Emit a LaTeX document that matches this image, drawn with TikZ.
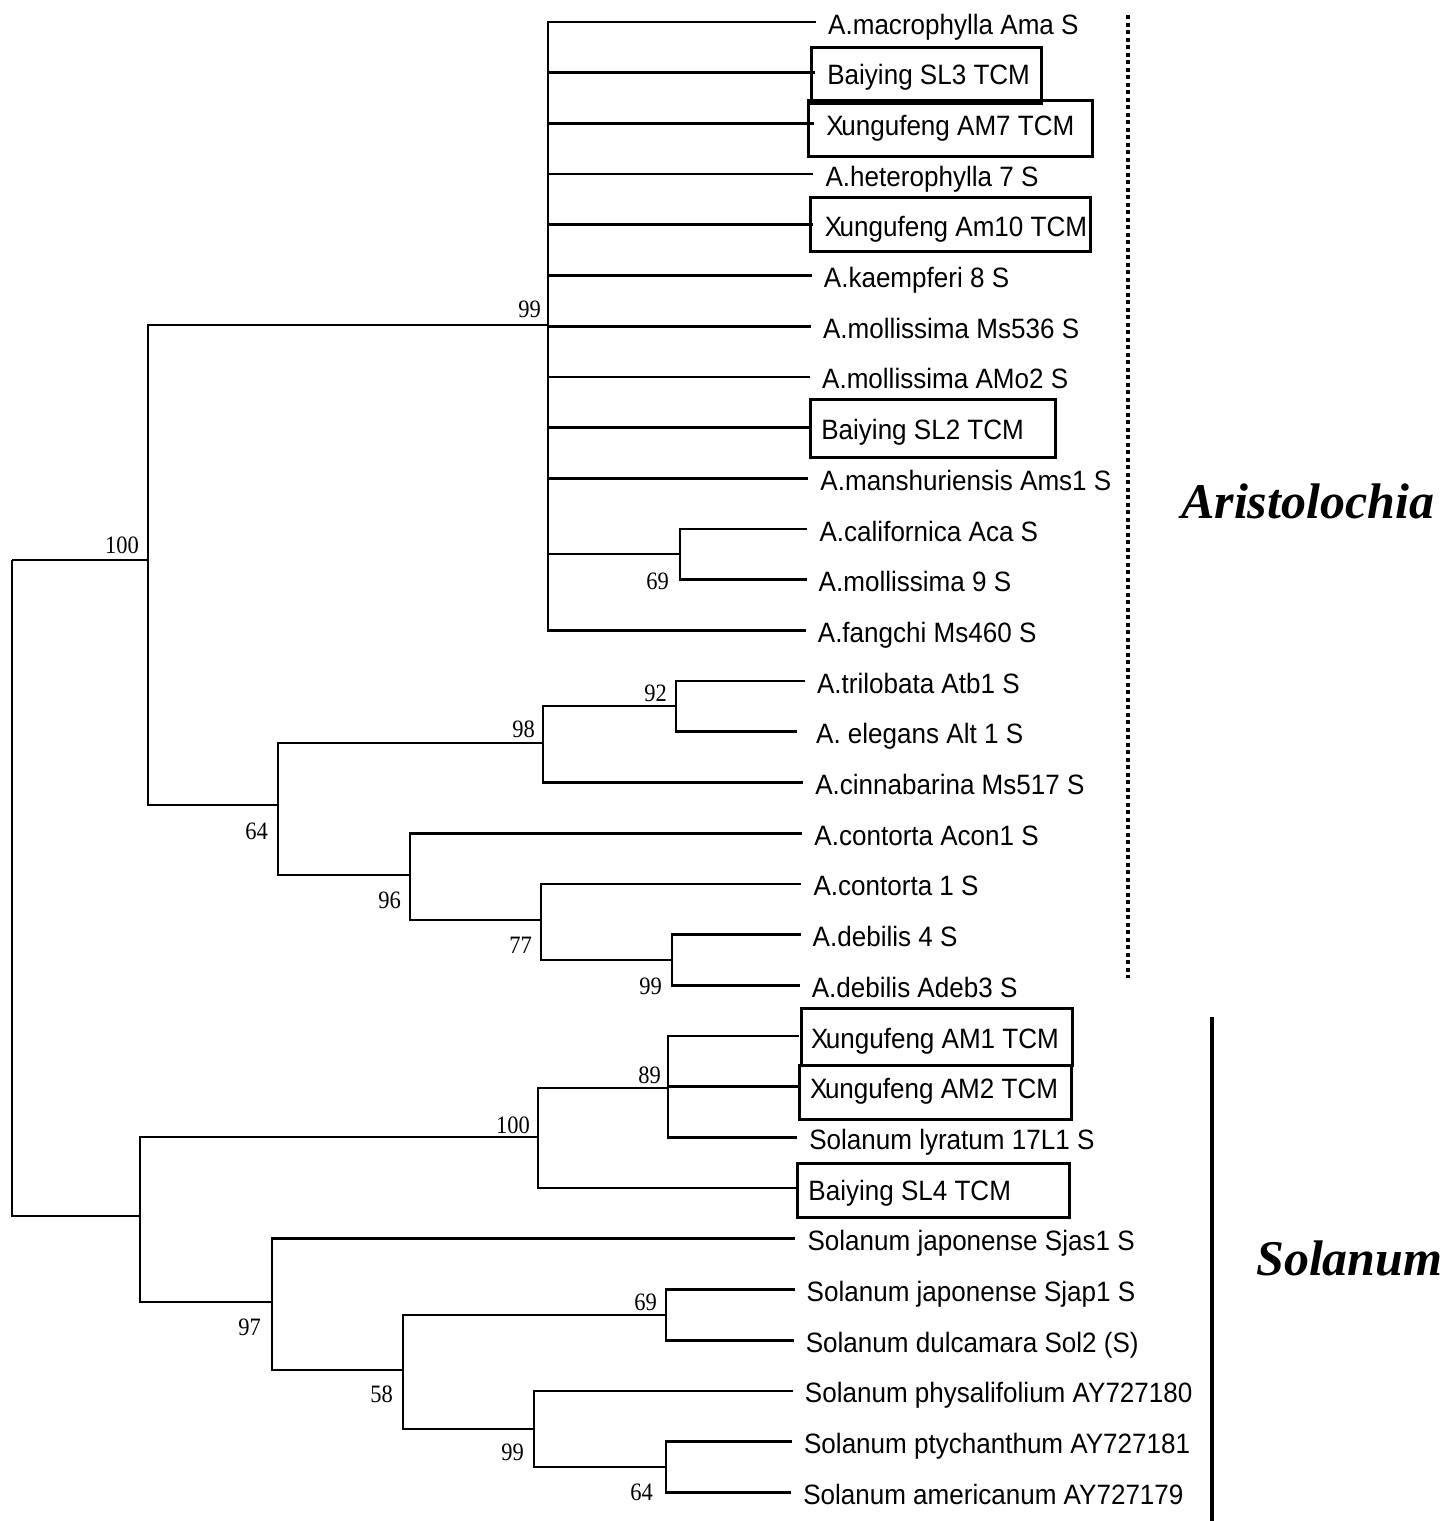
\documentclass[tikz,border=0pt]{standalone}
\usepackage{fontspec}
\newfontfamily\leaffont[FakeStretch=0.93]{Liberation Sans}
\newfontfamily\bsfont{Liberation Serif}
\newfontfamily\bootfont[FakeStretch=0.9]{Liberation Serif}
% tight X-u pair in the sample names
\newcommand\Xung{X\kern-2.5pt ungufeng}
\begin{document}
\begin{tikzpicture}[x=1pt,y=-1pt,
  branch/.style={line width=2.7pt},
  tcmbox/.style={line width=3pt},
  leaf/.style={anchor=base west, inner sep=0pt, font=\leaffont\fontsize{28}{30}\selectfont},
  boot/.style={anchor=base east, inner sep=0pt, font=\bootfont\fontsize{25}{28}\selectfont},
  clade/.style={anchor=base west, inner sep=0pt, font=\bsfont\bfseries\itshape\fontsize{50}{56}\selectfont}]
\useasboundingbox (0,0) rectangle (1451,1521);

% taxa: branch end points and labels
\foreach \i/\t [evaluate=\i as \yy using 22+50.7*(\i-1),
                evaluate=\i as \xx using 828-0.86*(\i-1)] in {
  1/A.macrophylla Ama S,
  2/Baiying SL3 TCM,
  3/\Xung{} AM7 TCM,
  4/A.heterophylla 7 S,
  5/\Xung{} Am10 TCM,
  6/A.kaempferi 8 S,
  7/A.mollissima Ms536 S,
  8/A.mollissima AMo2 S,
  9/Baiying SL2 TCM,
  10/A.manshuriensis Ams1 S,
  11/A.californica Aca S,
  12/A.mollissima 9 S,
  13/A.fangchi Ms460 S,
  14/A.trilobata Atb1 S,
  15/A. elegans Alt 1 S,
  16/A.cinnabarina Ms517 S,
  17/A.contorta Acon1 S,
  18/A.contorta 1 S,
  19/A.debilis 4 S,
  20/A.debilis Adeb3 S,
  21/\Xung{} AM1 TCM,
  22/\Xung{} AM2 TCM,
  23/Solanum lyratum 17L1 S,
  24/Baiying SL4 TCM,
  25/Solanum japonense Sjas1 S,
  26/Solanum japonense Sjap1 S,
  27/Solanum dulcamara Sol2 (S),
  28/Solanum physalifolium AY727180,
  29/Solanum ptychanthum AY727181,
  30/Solanum americanum AY727179} {
  \coordinate (e\i) at (\xx-12,\yy);
  \node[leaf] (t\i) at (\xx,\yy+12) {\t};
}
\coordinate (e15) at (797,731.8);

% internal nodes
\coordinate (root)  at (12,560);
\coordinate (nA100) at (148,560);
\coordinate (nA99)  at (548,325);
\coordinate (n69a)  at (680,554);
\coordinate (n64)   at (278,805);
\coordinate (n98)   at (543,743);
\coordinate (n92)   at (676,706);
\coordinate (n96)   at (410,875);
\coordinate (n77)   at (541,920);
\coordinate (n99b)  at (672,960);
\coordinate (nS)    at (140,1216);
\coordinate (n100s) at (538,1137);
\coordinate (n89)   at (668,1088);
\coordinate (n97)   at (272,1302);
\coordinate (n58)   at (403,1370);
\coordinate (n69b)  at (666,1315);
\coordinate (n99s)  at (534,1429);
\coordinate (n64s)  at (666,1467);

% branches
\foreach \p/\c in {root/nA100, root/nS,
  nA100/nA99, nA100/n64,
  nA99/e1, nA99/e2, nA99/e3, nA99/e4, nA99/e5, nA99/e6, nA99/e7,
  nA99/e8, nA99/e9, nA99/e10, nA99/n69a, nA99/e13,
  n69a/e11, n69a/e12,
  n64/n98, n64/n96, n98/n92, n98/e16, n92/e14, n92/e15,
  n96/e17, n96/n77, n77/e18, n77/n99b, n99b/e19, n99b/e20,
  nS/n100s, nS/n97, n100s/n89, n100s/e24,
  n89/e21, n89/e22, n89/e23,
  n97/e25, n97/n58, n58/n69b, n58/n99s,
  n69b/e26, n69b/e27, n99s/e28, n99s/n64s, n64s/e29, n64s/e30}
  \draw[branch] (\p) |- (\c);

% bootstrap values
\node[boot] (b1)  at (139,553)  {100};
\node[boot] (b2)  at (541,317)  {99};
\node[boot] (b3)  at (669,589)  {69};
\node[boot] (b4)  at (667,701)  {92};
\node[boot] (b5)  at (535,737)  {98};
\node[boot] (b6)  at (268,839)  {64};
\node[boot] (b7)  at (401,908)  {96};
\node[boot] (b8)  at (532,953)  {77};
\node[boot] (b9)  at (662,994)  {99};
\node[boot] (b10) at (661,1083) {89};
\node[boot] (b11) at (530,1133) {100};
\node[boot] (b12) at (261,1335) {97};
\node[boot] (b13) at (393,1402) {58};
\node[boot] (b14) at (657,1310) {69};
\node[boot] (b15) at (524,1460) {99};
\node[boot] (b16) at (653,1500) {64};

% boxed TCM samples
\draw[tcmbox] (811,47)    rectangle (1041,103);
\draw[tcmbox] (808,100)   rectangle (1092,156);
\draw[tcmbox] (810,197)   rectangle (1090,251);
\draw[tcmbox] (810,399)   rectangle (1055,457);
\draw[tcmbox] (801,1008)  rectangle (1072,1065);
\draw[tcmbox] (799,1065)  rectangle (1071,1119);
\draw[tcmbox] (797,1163)  rectangle (1069,1217);

% clade brackets
\coordinate (aTop) at (1128,15);
\coordinate (aBot) at (1128,978);
\draw[line width=4pt, dash pattern=on 4pt off 3.5pt] (aTop) -- (aBot);
\coordinate (sTop) at (1212,1017);
\coordinate (sBot) at (1212,1521);
\draw[line width=3.5pt] (sTop) -- (sBot);
\node[clade] (aris) at (1181,518)  {Aristolochia};
\node[clade] (sola) at (1256,1275) {Solanum};
\end{tikzpicture}
\end{document}
